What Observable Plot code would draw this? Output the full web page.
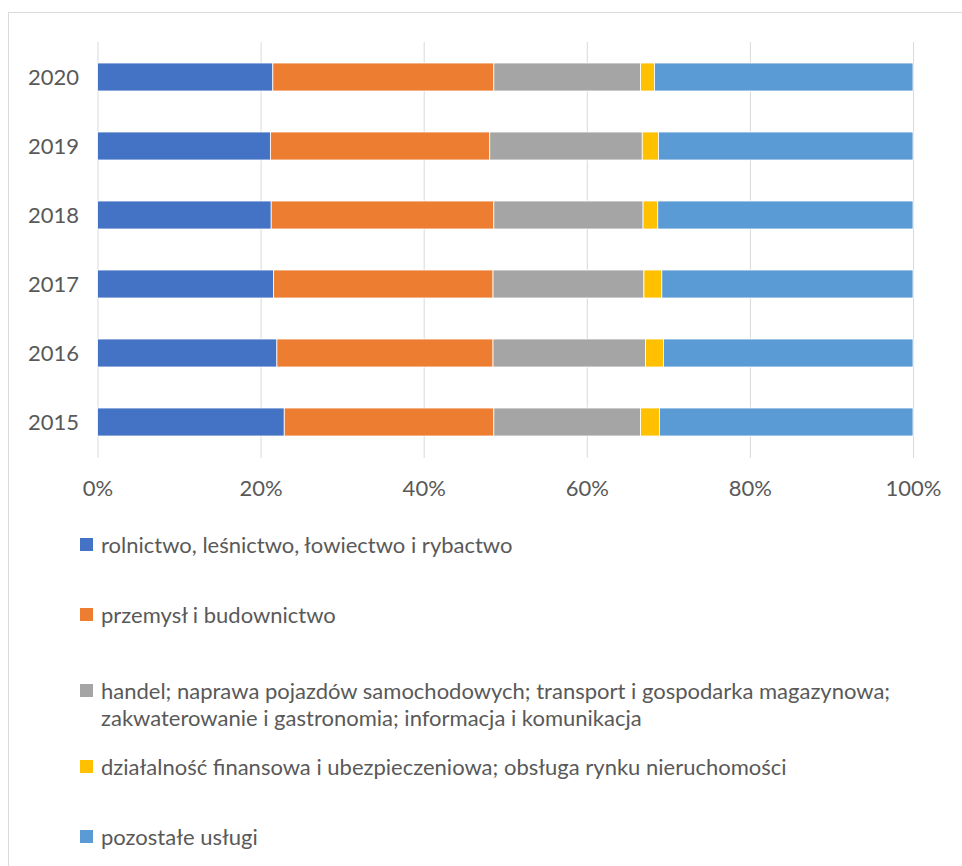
<!DOCTYPE html>
<html><head><meta charset="utf-8">
<script src="https://cdn.jsdelivr.net/npm/d3@7"></script>
<script src="https://cdn.jsdelivr.net/npm/@observablehq/plot@0.6"></script>
<style>
html,body{margin:0;padding:0;background:#fff;overflow:hidden;}
body{width:962px;height:866px;position:relative;font-family:Lato,"Open Sans",sans-serif;color:#595959;}
#frame{position:absolute;left:8px;top:12px;width:980px;height:900px;border:1px solid #d9d9d9;box-sizing:border-box;}
#chart{position:absolute;left:0;top:0;}
#legend{position:absolute;left:80px;top:0;width:880px;font-size:22px;color:#595959;}
.item{position:absolute;left:0;display:flex;align-items:flex-start;line-height:27px;}
.sw{width:13px;height:13px;flex:none;margin-top:7px;margin-right:8px;}
</style></head>
<body>
<div id="frame"></div>
<div id="chart"></div>
<div id="legend"></div>
<script>
const years = ["2020","2019","2018","2017","2016","2015"];
const sectors = [
  "rolnictwo, leśnictwo, łowiectwo i rybactwo",
  "przemysł i budownictwo",
  "handel; naprawa pojazdów samochodowych; transport i gospodarka magazynowa; zakwaterowanie i gastronomia; informacja i komunikacja",
  "działalność finansowa i ubezpieczeniowa; obsługa rynku nieruchomości",
  "pozostałe usługi"
];
const colors = ["#4472C4","#ED7D31","#A5A5A5","#FFC000","#5B9BD5"];
// shares (%) per year, in sector order
const rolnictwo = [21.5, 21.2, 21.3, 21.6, 22.0, 22.9];
const przemysl  = [27.1, 26.9, 27.3, 26.9, 26.5, 25.7];
const handel    = [18.0, 18.7, 18.3, 18.5, 18.7, 18.0];
const finanse   = [1.7, 2.0, 1.8, 2.2, 2.2, 2.3];
const pozostale = [31.7, 31.2, 31.3, 30.8, 30.6, 31.1];
const xTicks = [0, 20, 40, 60, 80, 100];

const series = [rolnictwo, przemysl, handel, finanse, pozostale];
const data = [];
years.forEach((y, i) => series.forEach((s, k) => data.push({year: y, sector: sectors[k], value: s[i]})));

const chart = Plot.plot({
  width: 962, height: 510,
  marginLeft: 97.5, marginRight: 49, marginTop: 42, marginBottom: 52.2,
  style: {fontFamily: "Lato, 'Open Sans', sans-serif", fontSize: "22px", color: "#595959", background: "transparent"},
  x: {domain: [0, 100], label: null},
  y: {domain: years, paddingInner: 0.596, paddingOuter: 0.298, label: null},
  color: {domain: sectors, range: colors},
  marks: [
    Plot.ruleX(xTicks, {stroke: "#d9d9d9", strokeWidth: 1}),
    Plot.barX(data, Plot.stackX({x: "value", y: "year", fill: "sector", order: sectors, stroke: "#fff", strokeWidth: 0.8})),
    Plot.axisX({ticks: xTicks, tickFormat: d => d + "%", tickSize: 0, tickPadding: 22, fill: "#595959"}),
    Plot.axisY({tickSize: 0, tickPadding: 19, fill: "#595959"})
  ]
});
document.getElementById("chart").appendChild(chart);

const legendTops = [531, 601, 677, 753, 823];
const leg = document.getElementById("legend");
sectors.forEach((s, k) => {
  const d = document.createElement("div");
  d.className = "item";
  d.style.top = legendTops[k] + "px";
  d.innerHTML = `<span class="sw" style="background:${colors[k]}"></span><span class="tx" style="width:840px">${s}</span>`;
  leg.appendChild(d);
});
</script>
</body></html>
